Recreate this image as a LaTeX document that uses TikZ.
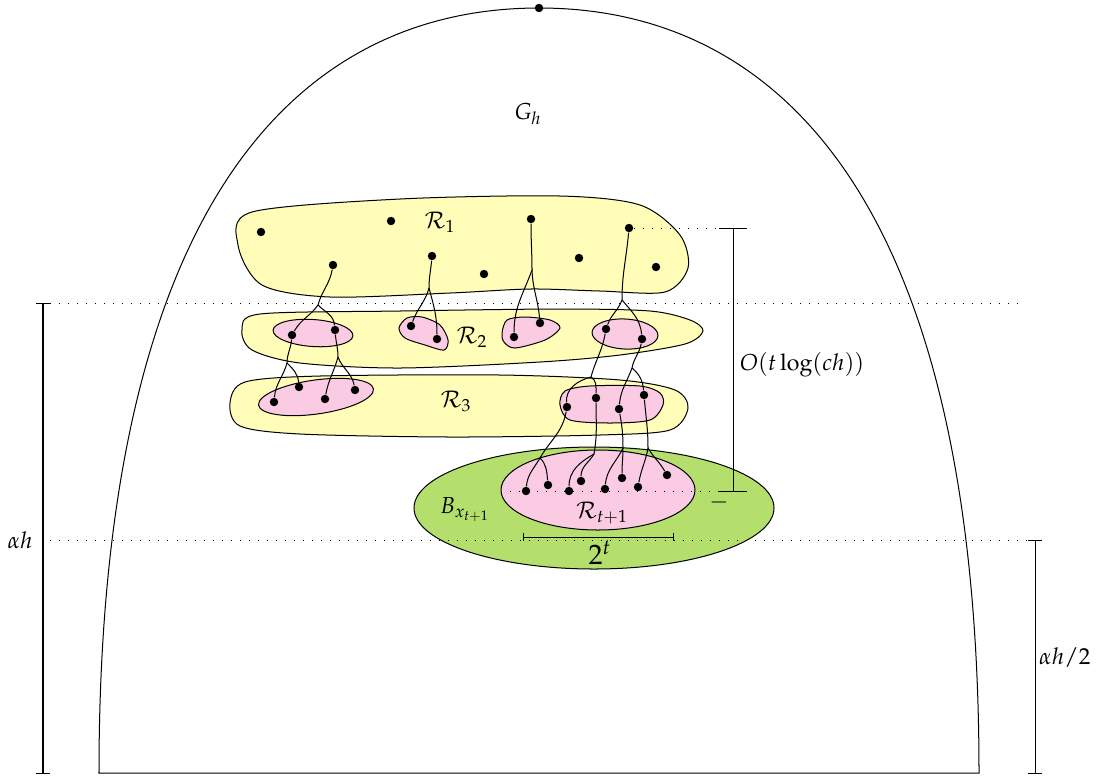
\documentclass[tikz,border=0pt]{standalone}
\usepackage{mathpazo}
\definecolor{ylw}{RGB}{255,253,183}
\definecolor{pnk}{RGB}{251,203,228}
\definecolor{grn}{RGB}{180,223,108}
\tikzset{
  dot/.style={circle,fill=black,inner sep=0pt,minimum size=4.2pt},
  yblob/.style={draw,fill=ylw},
  pblob/.style={draw,fill=pnk},
  guide/.style={dash pattern=on 0.5pt off 4pt},
  bar/.style={line width=0.5pt}
}
\begin{document}
\begin{tikzpicture}[x=0.0175cm,y=-0.0175cm,line width=0.5pt,
    every node/.style={font=\fontsize{11.5}{14}\selectfont}]
  \useasboundingbox (0,0) rectangle (1103,780);
  % the region G_h
  \draw (99,773) .. controls (99,200) and (300,8) .. (539,8)
        .. controls (778,8) and (979,200) .. (979,773) -- cycle;
  \node (gh) at (528,114) {$G_h$};

  % ball and R_{t+1}
  \draw[fill=grn] (594,508) ellipse [x radius=180, y radius=61];
  \draw[pblob] (598,490) ellipse [x radius=97, y radius=40];

  % layers
  \draw[yblob] plot[smooth cycle] coordinates {(238,245) (252,212) (400,199) (560,196) (640,205)
    (680,235) (688,268) (665,292) (600,291) (530,289) (450,293) (330,297) (262,285)};
  \draw[yblob] plot[smooth cycle] coordinates {(242,330) (260,314) (400,311) (560,309) (650,311)
    (690,320) (703,331) (685,344) (620,355) (540,362) (400,368) (300,363) (252,350)};
  \draw[yblob] plot[smooth cycle] coordinates {(230,403) (245,382) (320,376) (500,375) (620,380)
    (675,390) (688,408) (670,430) (600,435) (450,437) (300,434) (240,426)};

  \draw[pblob,rotate around={-4:(313,333)}] (313,333) ellipse [x radius=40, y radius=13.5];
  \draw[pblob] plot[smooth cycle] coordinates {(399,328) (407,318) (422,317) (440,325) (448,340)
    (444,350) (425,345) (405,338)};
  \draw[pblob] plot[smooth cycle] coordinates {(502,333) (507,320) (525,317) (550,320) (560,328)
    (545,340) (515,348) (504,342)};
  \draw[pblob,rotate around={-3:(625,334)}] (625,334) ellipse [x radius=33, y radius=15];
  \draw[pblob,rotate around={8:(316,397)}] (316,397) ellipse [x radius=58, y radius=17];
  \draw[pblob] plot[smooth cycle] coordinates {(560,405) (565,391) (590,386) (640,386) (660,393)
    (663,405) (650,420) (610,423) (570,420)};

  \node (lr1) at (440,222) {$\mathcal{R}_1$};
  \node (lr2) at (472,337) {$\mathcal{R}_2$};
  \node (lr3) at (456,401) {$\mathcal{R}_3$};
  \node (lrt) at (602,513) {$\mathcal{R}_{t+1}$};
  \node (lb) at (465,510) {$B_{x_{t+1}}$};

  % points
  \draw
    (539,8) node[dot] (top){}
    (261,232) node[dot] (r1a){}
    (391,221) node[dot] (r1b){}
    (531,219) node[dot] (r1c){}
    (629,228) node[dot] (r1d){}
    (333,265) node[dot] (r1e){}
    (432,256) node[dot] (r1f){}
    (484,274) node[dot] (r1g){}
    (579,258) node[dot] (r1h){}
    (656,267) node[dot] (r1i){}
    (292,335) node[dot] (p21a){}
    (335,330) node[dot] (p21b){}
    (411,326) node[dot] (p22a){}
    (437,339) node[dot] (p22b){}
    (514,337) node[dot] (p23a){}
    (540,323) node[dot] (p23b){}
    (606,329) node[dot] (p24a){}
    (642,339) node[dot] (p24b){}
    (274,402) node[dot] (p31a){}
    (299,387) node[dot] (p31b){}
    (325,399) node[dot] (p31c){}
    (355,390) node[dot] (p31d){}
    (567,407) node[dot] (p32a){}
    (596,398) node[dot] (p32b){}
    (619,409) node[dot] (p32c){}
    (644,395) node[dot] (p32d){}
    (526,491) node[dot] (q1){}
    (548,485) node[dot] (q2){}
    (569,491) node[dot] (q3){}
    (581,481) node[dot] (q4){}
    (605,489) node[dot] (q5){}
    (622,478) node[dot] (q6){}
    (638,487) node[dot] (q7){}
    (667,475) node[dot] (q8){};

  % where the paths fork
  \coordinate (s1) at (318,305);
  \coordinate (s2) at (429,288);
  \coordinate (s3) at (532,270);
  \coordinate (s4) at (622,300);
  \coordinate (s5) at (287,363);
  \coordinate (s6) at (338,357);
  \coordinate (s7) at (591,377);
  \coordinate (s8) at (632,368);
  \coordinate (s9) at (540,458);
  \coordinate (s10) at (594,454);
  \coordinate (s11) at (623,448);
  \coordinate (s12) at (648,448);

  \begin{scope}[-]
    \draw (r1e) to[out=-100,in=75] (s1) to[out=-125,in=60] (p21a);
    \draw (s1) to[out=-45,in=95] (p21b);
    \draw (r1f) to[out=-95,in=90] (s2) to[out=-105,in=70] (p22a);
    \draw (s2) to[out=-75,in=90] (p22b);
    \draw (r1c) to[out=-90,in=90] (s3) to[out=-110,in=90] (p23a);
    \draw (s3) to[out=-88,in=95] (p23b);
    \draw (r1d) to[out=-95,in=90] (s4) to[out=-110,in=70] (p24a);
    \draw (s4) to[out=-50,in=95] (p24b);
    \draw (p21a) to[out=-95,in=90] (s5) to[out=-105,in=85] (p31a);
    \draw (s5) to[out=-45,in=95] (p31b);
    \draw (p21b) to[out=-85,in=90] (s6) to[out=-105,in=80] (p31c);
    \draw (s6) to[out=-70,in=100] (p31d);
    \draw (p24a) to[out=-100,in=75] (s7) to[out=-165,in=95] (p32a);
    \draw (s7) to[out=-30,in=90] (p32b);
    \draw (p24b) to[out=-100,in=80] (s8) to[out=-110,in=85] (p32c);
    \draw (s8) to[out=-40,in=95] (p32d);
    \draw (p32a) to[out=-100,in=60] (s9) to[out=-120,in=85] (q1);
    \draw (s9) to[out=-45,in=95] (q2);
    \draw (p32b) to[out=-90,in=80] (s10) to[out=-150,in=90] (q3);
    \draw (s10) to[out=-120,in=90] (q4);
    \draw (p32c) to[out=-80,in=90] (s11) to[out=-115,in=85] (q5);
    \draw (s11) to[out=-90,in=90] (q6);
    \draw (p32d) to[out=-85,in=90] (s12) to[out=-100,in=80] (q7);
    \draw (s12) to[out=-60,in=120] (q8);
  \end{scope}

  % levels and sizes
  \draw[guide] (50,303) -- (1020,303);
  \draw[guide] (50,540) -- (1028,540);
  \draw[guide] (r1d) -- (719,228);
  \draw[guide] (510,491) -- (719,491);

  \draw[bar] (36,303) -- (50,303) (43,303) -- (43,773) (36,773) -- (50,773);
  \node (lah) at (20,540) {$\alpha h$};
  \draw[bar] (1028,540) -- (1042,540) (1035,540) -- (1035,773) (1028,773) -- (1042,773);
  \node[anchor=west] (lah2) at (1032,657) {$\alpha h/2$};
  \draw[bar] (719,228) -- (747,228) (733,228) -- (733,491) (719,491) -- (747,491);
  \node[anchor=west] (lo) at (733,365) {$O(t\log(ch))$};
  \node (lm) at (719,502) {$-$};
  \draw[bar] (523,533) -- (523,541) (523,537) -- (673,537) (673,533) -- (673,541);
  \node[font=\fontsize{14}{16}\selectfont] (l2t) at (600,553) {$2^t$};
\end{tikzpicture}
\end{document}
